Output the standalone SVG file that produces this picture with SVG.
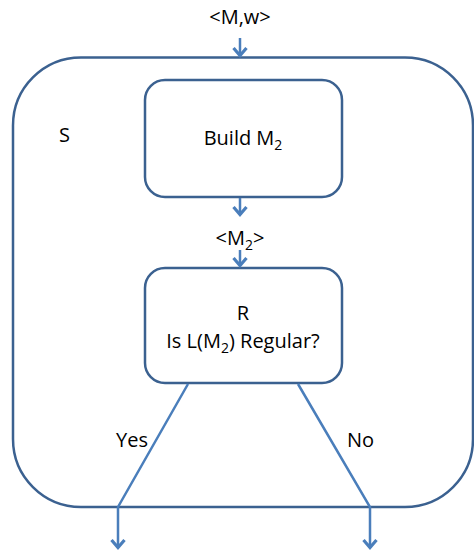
<svg xmlns="http://www.w3.org/2000/svg" width="474" height="551" viewBox="0 0 474 551">
<style>
.box{fill:none;stroke:#3b6190;stroke-width:2.5}
.con{fill:none;stroke:#4a7ebb;stroke-width:2.5}
text{font-family:"Open Sans","Liberation Sans",sans-serif;font-size:20px;fill:#000}
</style>
<defs>
<marker id="ah" viewBox="0 0 12 16" refX="10.5" refY="8" markerWidth="12" markerHeight="16" markerUnits="userSpaceOnUse" orient="auto">
<path d="M2.5,1.5 L10,8 L2.5,14.5" fill="none" stroke="#4a7ebb" stroke-width="3.2"/>
</marker>
</defs>
<g id="S">
<rect class="box" x="13" y="57.5" width="460" height="449.5" rx="68" ry="68"/>
<text x="59" y="142">S</text>
</g>
<g id="build">
<rect class="box" x="145" y="80" width="197" height="117" rx="20" ry="20"/>
<text x="243" y="145" text-anchor="middle">Build M<tspan font-size="14" dy="5">2</tspan></text>
</g>
<g id="R">
<rect class="box" x="145" y="268" width="197" height="115" rx="20" ry="20"/>
<text x="243" y="320" text-anchor="middle">R</text>
<text x="243" y="348" text-anchor="middle">Is L(M<tspan font-size="14" dy="5">2</tspan><tspan dy="-5">) Regular?</tspan></text>
</g>
<g id="connectors">
<text x="240" y="24" text-anchor="middle">&lt;M,w&gt;</text>
<line class="con" x1="240" y1="38" x2="240" y2="56" marker-end="url(#ah)"/>
<line class="con" x1="240" y1="198" x2="240" y2="215" marker-end="url(#ah)"/>
<text x="240" y="245" text-anchor="middle">&lt;M<tspan font-size="14" dy="5">2</tspan><tspan dy="-5">&gt;</tspan></text>
<line class="con" x1="240" y1="250" x2="240" y2="266" marker-end="url(#ah)"/>
<polyline class="con" points="188,384 118,507 118,548" marker-end="url(#ah)"/>
<polyline class="con" points="298,384 370,507 370,548" marker-end="url(#ah)"/>
<text x="116" y="447">Yes</text>
<text x="347" y="447">No</text>
</g>
</svg>
